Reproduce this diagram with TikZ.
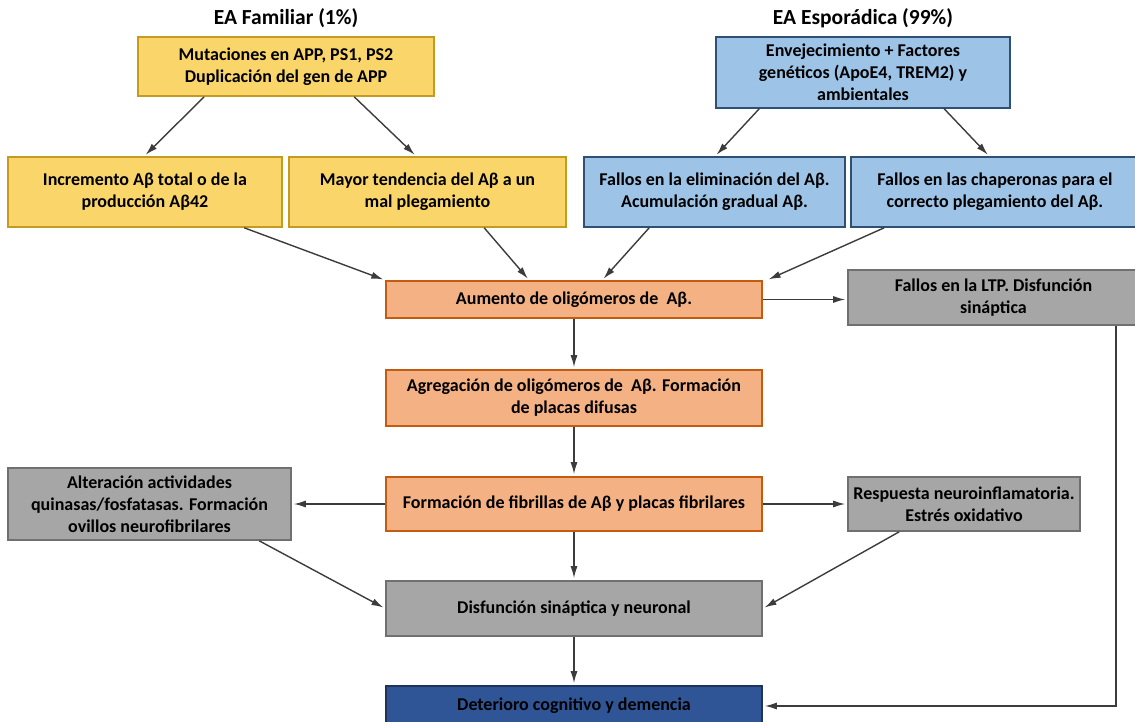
\documentclass[tikz,border=0pt]{standalone}
\usepackage{fontspec}
\setmainfont{Carlito}
\usetikzlibrary{arrows.meta,calc}
\definecolor{famfill}{RGB}{250,214,106}
\definecolor{famline}{RGB}{196,154,32}
\definecolor{espfill}{RGB}{157,195,230}
\definecolor{espline}{RGB}{46,80,114}
\definecolor{oligfill}{RGB}{244,177,131}
\definecolor{oligline}{RGB}{197,90,17}
\definecolor{efecfill}{RGB}{166,166,166}
\definecolor{efecline}{RGB}{112,112,112}
\definecolor{finfill}{RGB}{47,85,151}
\definecolor{finline}{RGB}{30,52,92}
\definecolor{flecha}{RGB}{60,60,60}

\begin{document}
\begin{tikzpicture}[x=1pt, y=-1pt, font=\fontsize{18}{22}\selectfont\bfseries,
    box/.style={rectangle, line width=1.6pt, align=center, inner sep=0pt},
    titulo/.style={font=\fontsize{21.5}{26}\selectfont\bfseries},
    famil/.style={box, fill=famfill, draw=famline},
    espor/.style={box, fill=espfill, draw=espline},
    olig/.style={box, fill=oligfill, draw=oligline},
    efecto/.style={box, fill=efecfill, draw=efecline},
    final/.style={box, fill=finfill, draw=finline},
    flujo/.style={draw=flecha, line width=1.4pt, shorten >=2pt, -{Latex[length=12pt,width=7pt]}}]
    \useasboundingbox (0,0) rectangle (1135,722);

    % titulos
    \node[titulo] (tfam) at (286,18) {EA Familiar (1\%)};
    \node[titulo] (tesp) at (863,18) {EA Esporádica (99\%)};

    % causas
    \node[famil, minimum width=296pt, minimum height=59pt] (mut) at (286,66.5)
        {Mutaciones en APP, PS1, PS2\\Duplicación del gen de APP};
    \node[espor, minimum width=294pt, minimum height=71pt] (env) at (863,72.5)
        {Envejecimiento + Factores\\genéticos (ApoE4, TREM2) y\\ambientales};

    \node[famil, minimum width=274pt, minimum height=70pt] (inc) at (145,192)
        {Incremento Aβ total o de la\\producción Aβ42};
    \node[famil, minimum width=277pt, minimum height=70pt] (may) at (427.5,192)
        {Mayor tendencia del Aβ a un\\mal plegamiento};
    \node[espor, minimum width=261pt, minimum height=70pt] (eli) at (714.5,192)
        {Fallos en la eliminación del Aβ.\\Acumulación gradual Aβ.};
    \node[espor, minimum width=288pt, minimum height=70pt] (cha) at (995,192)
        {Fallos en las chaperonas para el\\correcto plegamiento del Aβ.};

    % cascada central
    \node[olig, minimum width=376pt, minimum height=37pt] (aum) at (574,299.5)
        {Aumento de oligómeros de\ \ Aβ.};
    \node[olig, minimum width=376pt, minimum height=56pt] (agr) at (574,398)
        {Agregación de oligómeros de\ \ Aβ. Formación\\de placas difusas};
    \node[olig, minimum width=376pt, minimum height=54pt] (fib) at (574,504)
        {Formación de fibrillas de Aβ y placas fibrilares};
    \node[efecto, minimum width=376pt, minimum height=55pt] (dis) at (574,608.5)
        {Disfunción sináptica y neuronal};
    \node[final, minimum width=376pt, minimum height=40pt] (det) at (574,706)
        {Deterioro cognitivo y demencia};

    % efectos laterales
    \node[efecto, minimum width=291pt, minimum height=55pt] (ltp) at (993.5,297.5)
        {Fallos en la LTP. Disfunción\\sináptica};
    \node[efecto, minimum width=283pt, minimum height=72pt] (alt) at (149.5,504)
        {Alteración actividades\\quinasas/fosfatasas. Formación\\ovillos neurofibrilares};
    \node[efecto, minimum width=232pt, minimum height=54pt] (res) at (964,504)
        {Respuesta neuroinflamatoria.\\Estrés oxidativo};

    % flechas
    \draw[flujo] ([xshift=67pt]mut.south west) -- ([xshift=137pt]inc.north west);
    \draw[flujo] ([xshift=217pt]mut.south west) -- ([xshift=128pt]may.north west);
    \draw[flujo] ([xshift=44pt]env.south west) -- ([xshift=132pt]eli.north west);
    \draw[flujo] ([xshift=229pt]env.south west) -- ([xshift=139pt]cha.north west);
    \draw[flujo] ([xshift=237pt]inc.south west) -- (aum.north west);
    \draw[flujo] ([xshift=196pt]may.south west) -- ([xshift=144pt]aum.north west);
    \draw[flujo] ([xshift=66pt]eli.south west) -- ([xshift=217pt]aum.north west);
    \draw[flujo] ([xshift=34pt]cha.south west) -- ([xshift=4pt]aum.north east);
    \draw[flujo] (aum.east) -- (aum.east -| ltp.west);
    \draw[flujo] (aum) -- (agr);
    \draw[flujo] (agr) -- (fib);
    \draw[flujo] (fib) -- (dis);
    \draw[flujo] (dis) -- (det);
    \draw[flujo] (fib.west) -- (alt.east);
    \draw[flujo] (fib.east) -- (res.west);
    \draw[flujo] ([xshift=252pt]alt.south west) -- (dis.west);
    \draw[flujo] ([xshift=52pt]res.south west) -- (dis.east);
    \draw[flujo] ([xshift=-24pt]ltp.south east) |- (det.east);
\end{tikzpicture}
\end{document}
